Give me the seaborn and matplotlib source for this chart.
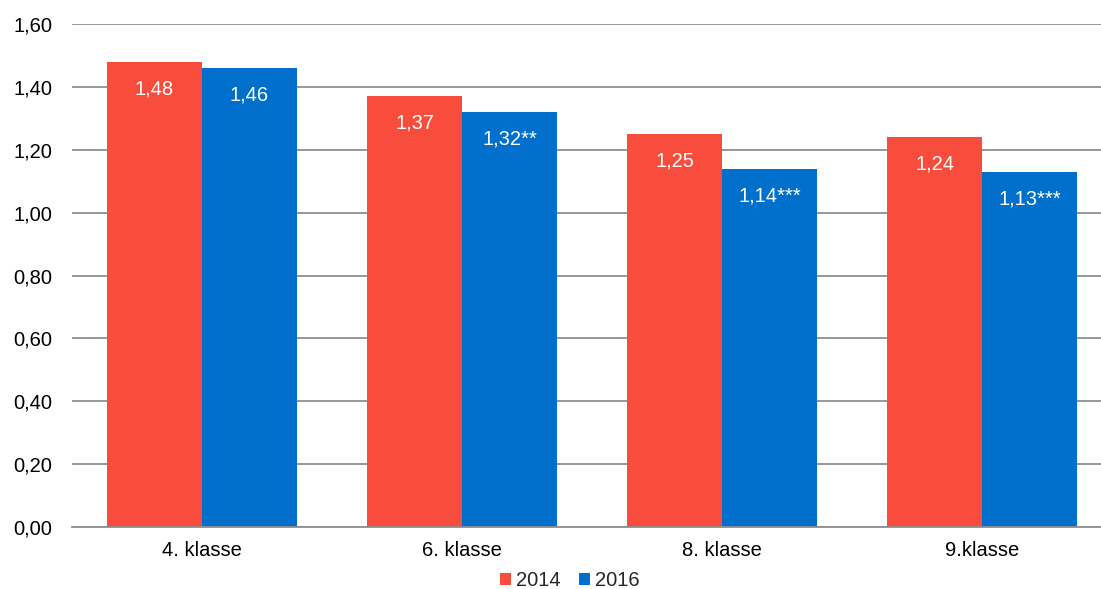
import pandas as pd
import numpy as np
import matplotlib
matplotlib.use("Agg")
from matplotlib import pyplot as plt
import seaborn as sns

# data
klasser = ["4. klasse", "6. klasse", "8. klasse", "9.klasse"]
aar = ["2014", "2016"]
verdier_2014 = [1.48, 1.37, 1.25, 1.24]
verdier_2016 = [1.46, 1.32, 1.14, 1.13]
etiketter_2014 = ["1,48", "1,37", "1,25", "1,24"]
etiketter_2016 = ["1,46", "1,32**", "1,14***", "1,13***"]

df = pd.DataFrame({
    "klasse": klasser * 2,
    "aar": [aar[0]] * 4 + [aar[1]] * 4,
    "verdi": verdier_2014 + verdier_2016,
})

sns.set_style("white")
plt.rcParams["font.family"] = ["Liberation Sans", "DejaVu Sans"]

fig = plt.figure(figsize=(11.01, 5.89), dpi=100)
ax = fig.add_axes([72 / 1101, 1 - 527 / 589, 1 - 72 / 1101, (527 - 24) / 589])

farger = ["#F84C3C", "#0070CC"]
sns.barplot(data=df, x="klasse", y="verdi", hue="aar", palette=farger,
            width=0.73, saturation=1, linewidth=0, ax=ax, legend=True)

# data labels inside the bars
for cont, labs in zip(ax.containers, [etiketter_2014, etiketter_2016]):
    for bar, lab in zip(cont, labs):
        ax.annotate(lab, (bar.get_x() + bar.get_width() / 2, bar.get_height()),
                    xytext=(0, -27), textcoords="offset pixels",
                    ha="center", va="center", color="white", fontsize=14.5)

ax.set_ylim(0, 1.6)
ticks = np.arange(0, 1.61, 0.2)
ax.set_yticks(ticks)
ax.set_yticklabels([f"{v:.2f}".replace(".", ",") for v in ticks])
ax.set_xlim(-0.5, (1101 - 72) / 260 - 0.5)
ax.grid(axis="y", color="#8f8f8f", linewidth=1.3)
ax.set_axisbelow(True)
for s in ["left", "right", "top"]:
    ax.spines[s].set_visible(False)
ax.spines["bottom"].set_color("#8f8f8f")
ax.spines["bottom"].set_linewidth(1.3)
ax.tick_params(axis="both", labelsize=14.5, length=0, colors="black")
ax.tick_params(axis="y", pad=14)
ax.tick_params(axis="x", pad=10)
ax.set_xlabel("")
ax.set_ylabel("")

h, l = ax.get_legend_handles_labels()
ax.get_legend().remove()
fig.legend(h, l, loc="center", bbox_to_anchor=(570 / 1101, 1 - 581 / 589), ncol=2,
           frameon=False, fontsize=14.5, handlelength=0.55, handleheight=0.55,
           handletextpad=0.25, columnspacing=0.9, borderpad=0, borderaxespad=0)

fig.savefig("out.png", dpi=100)
